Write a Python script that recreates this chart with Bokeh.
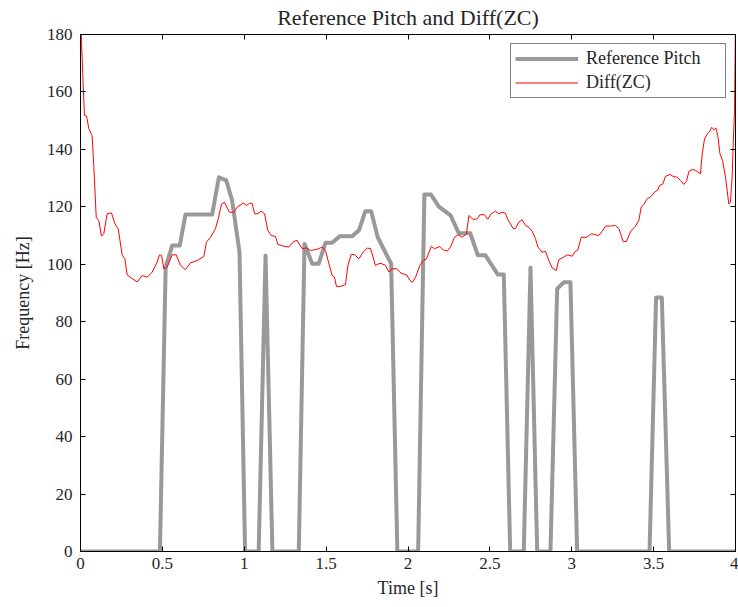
from bokeh.plotting import figure
from bokeh.models import (Range1d, LinearAxis, FixedTicker, Legend, LegendItem)
from bokeh.embed import file_html
from bokeh.resources import INLINE

# Reference pitch track (Hz), zero where unvoiced
ref_t = [0.0, 0.485, 0.52, 0.56, 0.606, 0.641, 0.804, 0.845, 0.89, 0.926, 0.971,
         1.005, 1.088, 1.13, 1.172, 1.333, 1.368, 1.415, 1.455, 1.496, 1.537,
         1.584, 1.659, 1.70, 1.74, 1.775, 1.815, 1.897, 1.935, 2.062, 2.10,
         2.14, 2.188, 2.26, 2.31, 2.38, 2.427, 2.473, 2.549, 2.585, 2.624,
         2.707, 2.748, 2.789, 2.87, 2.911, 2.951, 2.992, 3.033, 3.475, 3.515,
         3.55, 3.595, 4.0]
ref_f = [0, 0, 99.0, 106.5, 106.5, 117.3, 117.3, 130.3, 129.2, 122.2, 104.2,
         0, 0, 103.0, 0, 0, 107.1, 100.2, 100.2, 107.5, 107.5,
         109.8, 109.8, 111.8, 118.5, 118.5, 109.4, 100.2, 0, 0, 124.3,
         124.3, 120.1, 117.0, 110.8, 110.8, 103.1, 103.1, 96.4, 96.4, 0,
         0, 98.8, 0, 0, 91.5, 93.7, 93.7, 0, 0, 88.4,
         88.4, 0, 0]

# Zero-crossing difference pitch estimate (Hz)
zc_t = [0.000, 0.006, 0.014, 0.024, 0.037, 0.051, 0.071, 0.081, 0.096, 0.112,
        0.128, 0.142, 0.163, 0.189, 0.21, 0.23, 0.255, 0.271, 0.285, 0.316,
        0.346, 0.377, 0.407, 0.438, 0.468, 0.482, 0.495, 0.509, 0.529, 0.56,
        0.584, 0.611, 0.641, 0.672, 0.713, 0.753, 0.769, 0.794, 0.824, 0.841,
        0.861, 0.879, 0.91, 0.936, 0.957, 0.994, 1.014, 1.034, 1.048, 1.063,
        1.083, 1.103, 1.124, 1.144, 1.164, 1.191, 1.205, 1.242, 1.272, 1.303,
        1.323, 1.354, 1.38, 1.405, 1.425, 1.449, 1.476, 1.496, 1.517, 1.537,
        1.551, 1.563, 1.588, 1.618, 1.633, 1.653, 1.673, 1.70, 1.726, 1.751,
        1.771, 1.787, 1.80, 1.822, 1.836, 1.863, 1.883, 1.903, 1.928, 1.95,
        1.964, 1.991, 2.011, 2.026, 2.046, 2.072, 2.093, 2.113, 2.142, 2.162,
        2.194, 2.215, 2.239, 2.26, 2.284, 2.306, 2.331, 2.357, 2.372, 2.398,
        2.423, 2.439, 2.467, 2.487, 2.508, 2.534, 2.555, 2.575, 2.595, 2.61,
        2.626, 2.642, 2.656, 2.677, 2.697, 2.718, 2.738, 2.758, 2.779, 2.793,
        2.819, 2.84, 2.86, 2.88, 2.905, 2.921, 2.952, 2.972, 3.003, 3.017,
        3.037, 3.058, 3.09, 3.119, 3.139, 3.165, 3.186, 3.206, 3.237, 3.267,
        3.288, 3.302, 3.314, 3.334, 3.349, 3.363, 3.389, 3.41, 3.424, 3.44,
        3.461, 3.485, 3.505, 3.526, 3.536, 3.557, 3.572, 3.599, 3.619, 3.644,
        3.664, 3.684, 3.701, 3.715, 3.736, 3.756, 3.786, 3.797, 3.811, 3.831,
        3.843, 3.855, 3.868, 3.88, 3.892, 3.905, 3.921, 3.939, 3.949, 3.959,
        3.969, 3.98, 3.986, 3.994, 4.0]
zc_f = [190.0, 178.0, 165.7, 151.8, 151.6, 147.2, 144.8, 134.4, 116.4, 115.2,
        109.8, 110.6, 117.6, 117.9, 114.1, 112.4, 103.1, 101.9, 96.3, 95.0,
        93.8, 96.1, 95.5, 97.3, 100.7, 103.3, 103.1, 98.4, 99.0, 103.3,
        103.3, 99.6, 98.1, 100.5, 101.3, 102.7, 107.7, 109.4, 112.4, 115.8,
        121.0, 121.6, 118.1, 118.1, 119.9, 121.3, 120.5, 121.3, 121.2, 117.6,
        117.6, 118.5, 117.6, 111.8, 110.0, 109.7, 106.9, 106.3, 106.0, 108.0,
        108.3, 105.4, 105.7, 104.8, 105.0, 105.3, 106.0, 104.8, 100.2, 96.1,
        95.5, 92.3, 92.3, 92.9, 99.6, 103.4, 103.4, 101.9, 104.2, 105.6,
        105.5, 102.5, 99.6, 100.2, 100.3, 99.6, 97.3, 98.4, 98.5, 97.3,
        96.7, 96.4, 94.4, 93.7, 95.5, 99.6, 101.3, 101.9, 106.2, 105.4,
        106.2, 105.0, 104.6, 106.0, 109.4, 110.3, 109.4, 110.6, 117.0, 115.6,
        115.8, 117.2, 117.3, 115.7, 117.6, 118.5, 117.6, 118.1, 117.8, 115.5,
        114.1, 112.4, 112.4, 114.7, 115.5, 113.5, 112.9, 111.5, 108.9, 106.0,
        104.2, 104.5, 101.3, 98.8, 97.8, 101.6, 102.5, 103.3, 102.8, 104.2,
        105.0, 109.4, 109.4, 110.6, 110.4, 110.0, 111.5, 113.3, 113.3, 113.5,
        112.4, 110.0, 108.0, 107.9, 110.0, 111.8, 113.2, 115.3, 119.9, 120.8,
        122.8, 123.6, 125.1, 125.9, 127.4, 128.0, 130.6, 131.3, 130.6, 130.3,
        129.2, 127.8, 128.9, 132.3, 133.0, 132.7, 131.5, 138.5, 143.7, 145.6,
        146.3, 147.7, 146.8, 147.5, 144.8, 138.5, 136.1, 130.3, 125.7, 121.0,
        121.6, 130.9, 141.9, 153.5, 185.0]

x_ticks = [0, 0.5, 1, 1.5, 2, 2.5, 3, 3.5, 4]
x_tick_labels = ["0", "0.5", "1", "1.5", "2", "2.5", "3", "3.5", "4"]
y_ticks = [0, 20, 40, 60, 80, 100, 120, 140, 160, 180]

FONT = "Liberation Serif"
TEXT = "#262626"

p = figure(width=738, height=607, x_range=Range1d(0, 4), y_range=Range1d(0, 180),
           output_backend="svg", toolbar_location=None,
           min_border_left=80, min_border_right=3, min_border_top=34,
           min_border_bottom=56, background_fill_color="white",
           border_fill_color="white", outline_line_color="black",
           title="Reference Pitch and Diff(ZC)")
p.grid.visible = False

p.title.align = "center"
p.title.vertical_align = "top"
p.title.standoff = 6
p.title.text_font = FONT
p.title.text_font_size = "22px"
p.title.text_font_style = "normal"
p.title.text_color = TEXT

def style_axis(ax, ticks, show_labels):
    ax.ticker = FixedTicker(ticks=ticks)
    ax.major_tick_in = 5
    ax.major_tick_out = 0
    ax.minor_tick_line_color = None
    ax.axis_line_color = "black"
    ax.major_tick_line_color = "black"
    ax.major_label_text_font = FONT
    ax.axis_label_text_font = FONT
    ax.axis_label_text_font_style = "normal"
    ax.axis_label_text_color = TEXT
    ax.axis_label_text_font_size = "18px"
    if show_labels:
        ax.major_label_text_font_size = "17px"
        ax.major_label_text_color = TEXT
    else:
        # tick marks only, mirrored on the opposite side of the box
        ax.major_label_text_font_size = "1px"
        ax.major_label_text_color = None
        ax.major_label_standoff = 0

xa = p.xaxis[0]
style_axis(xa, x_ticks, True)
xa.major_label_overrides = dict(zip(x_ticks, x_tick_labels))
xa.major_label_standoff = 6
xa.axis_label = "Time [s]"
xa.axis_label_standoff = 6

ya = p.yaxis[0]
style_axis(ya, y_ticks, True)
ya.major_label_standoff = 8
ya.axis_label = "Frequency [Hz]"
ya.axis_label_standoff = 11

top = LinearAxis()
style_axis(top, x_ticks, False)
p.add_layout(top, "above")
right = LinearAxis()
style_axis(right, y_ticks, False)
p.add_layout(right, "right")

g_ref = p.line(ref_t, ref_f, line_color="#999999", line_width=4, line_join="round")
g_zc = p.line(zc_t, zc_f, line_color="#ff0000", line_width=1)

legend = Legend(items=[LegendItem(label="Reference Pitch", renderers=[g_ref]),
                       LegendItem(label="Diff(ZC)", renderers=[g_zc])],
                location="top_right", margin=9, padding=4, spacing=3,
                glyph_width=63, glyph_height=19, label_height=19, label_width=135,
                label_standoff=8, border_line_color="black", border_line_width=1,
                background_fill_alpha=1.0, label_text_font=FONT,
                label_text_font_size="18px", label_text_color=TEXT)
p.add_layout(legend)

open("out.html", "w").write(file_html(p, INLINE))
